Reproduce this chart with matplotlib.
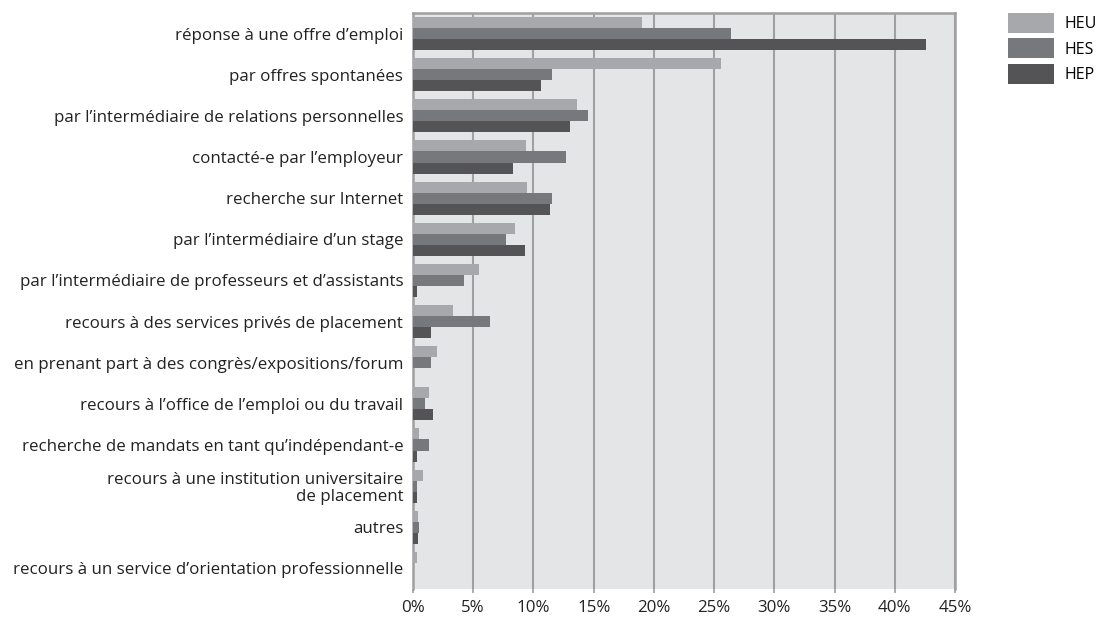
import numpy as np
import matplotlib.pyplot as plt
from matplotlib.patches import Patch

plt.rcParams['font.family'] = ['Open Sans', 'DejaVu Sans']

categories = [
    "réponse à une offre d’emploi",
    "par offres spontanées",
    "par l’intermédiaire de relations personnelles",
    "contacté-e par l’employeur",
    "recherche sur Internet",
    "par l’intermédiaire d’un stage",
    "par l’intermédiaire de professeurs et d’assistants",
    "recours à des services privés de placement",
    "en prenant part à des congrès/expositions/forum",
    "recours à l’office de l’emploi ou du travail",
    "recherche de mandats en tant qu’indépendant-e",
    "recours à une institution universitaire\nde placement",
    "autres",
    "recours à un service d’orientation professionnelle",
]

series = ["HEU", "HES", "HEP"]

# parts en % par type de haute école
heu = [19.0, 25.6, 13.6, 9.4, 9.5, 8.5, 5.5, 3.3, 2.0, 1.3, 0.5, 0.8, 0.45, 0.35]
hes = [26.4, 11.5, 14.5, 12.7, 11.5, 7.7, 4.25, 6.4, 1.5, 1.0, 1.3, 0.35, 0.5, 0.0]
hep = [42.6, 10.6, 13.0, 8.3, 11.4, 9.3, 0.3, 1.5, 0.0, 1.7, 0.3, 0.3, 0.45, 0.0]

xticks = [0, 5, 10, 15, 20, 25, 30, 35, 40, 45]

colors = ["#a7a8ab", "#77787b", "#545457"]
grid_col = "#a0a0a2"
fs = 12.2

fig = plt.figure(figsize=(11, 6.19), dpi=100)
ax = fig.add_axes([413 / 1100, 30 / 619, 542 / 1100, 576 / 619])
ax.set_facecolor("#e4e5e7")

y = np.arange(len(categories))
h = 0.268
for k, (vals, col) in enumerate(zip([heu, hes, hep], colors)):
    ax.barh(y + (k - 1) * h, vals, height=h, color=col, zorder=3, label=series[k])

ax.set_xlim(0, 45)
ax.set_ylim(len(categories) - 0.5, -0.5)
ax.set_xticks(xticks)
ax.set_xticklabels([f"{t}%" for t in xticks], fontsize=fs, color="#222222")
ax.set_yticks(y)
ax.set_yticklabels(categories, fontsize=fs, color="#222222", linespacing=1.05)

ax.grid(axis="x", color=grid_col, linewidth=1.5, zorder=1)
ax.tick_params(axis="y", length=0, pad=7)
ax.tick_params(axis="x", length=3, width=1.2, color=grid_col, pad=5)

for side in ["left", "top", "right"]:
    ax.spines[side].set_color(grid_col)
    ax.spines[side].set_linewidth(1.8)
ax.spines["bottom"].set_visible(False)

handles = [Patch(facecolor=c, edgecolor="none") for c in colors]
fig.legend(handles, series, loc="upper left", bbox_to_anchor=(1008 / 1100, 1 - 13 / 619),
           frameon=False, fontsize=11.5, handlelength=2.85, handleheight=1.55,
           labelspacing=0.33, handletextpad=0.68, borderaxespad=0, borderpad=0)

fig.savefig("out.png", dpi=100)
